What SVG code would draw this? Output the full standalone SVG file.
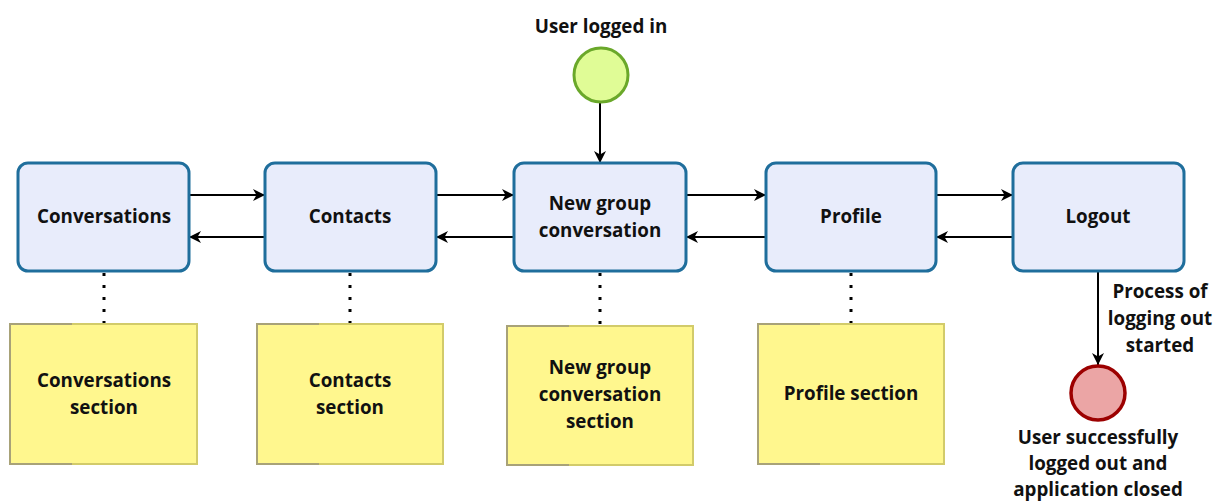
<svg xmlns="http://www.w3.org/2000/svg" width="1216" height="502" viewBox="0 0 1216 502">
  <style>
    text { font-family: "Open Sans", "Noto Sans", "Liberation Sans", sans-serif; font-weight: bold; font-size: 18.8px; fill: #111; text-anchor: middle; }
    .screen { fill: #e8ecfb; stroke: #1f6e9c; stroke-width: 3; }
    .note { fill: #fff78e; stroke: #d2cb6a; stroke-width: 2; }
    .noteShade { fill: none; stroke: #a8a278; stroke-width: 2; }
    .flow { fill: none; stroke: #000; stroke-width: 2; }
    .assoc { fill: none; stroke: #000; stroke-width: 3; stroke-dasharray: 3 9; }
  </style>
  <defs>
    <marker id="arrow" viewBox="0 0 12 12" refX="12" refY="6" markerWidth="12" markerHeight="12" markerUnits="userSpaceOnUse" orient="auto">
      <path d="M0,0 L12,6 L0,12 L3.5,6 Z" fill="#000"/>
    </marker>
  </defs>

  <!-- connectors -->
  <g id="connectors">
    <path class="flow" d="M189,195 H265" marker-end="url(#arrow)"/>
    <path class="flow" d="M265,237 H189" marker-end="url(#arrow)"/>
    <path class="flow" d="M436,195 H514" marker-end="url(#arrow)"/>
    <path class="flow" d="M514,237 H436" marker-end="url(#arrow)"/>
    <path class="flow" d="M686,195 H766" marker-end="url(#arrow)"/>
    <path class="flow" d="M766,237 H686" marker-end="url(#arrow)"/>
    <path class="flow" d="M936,195 H1013" marker-end="url(#arrow)"/>
    <path class="flow" d="M1013,237 H936" marker-end="url(#arrow)"/>
    <path class="flow" d="M600,103 V163" marker-end="url(#arrow)"/>
    <path class="flow" d="M1098,271 V365" marker-end="url(#arrow)"/>
    <path class="assoc" d="M104,273 V324"/>
    <path class="assoc" d="M350,273 V324"/>
    <path class="assoc" d="M600,273 V326"/>
    <path class="assoc" d="M851,273 V324"/>
  </g>

  <!-- start event -->
  <g id="start">
    <circle cx="601" cy="75" r="27" fill="#e0fc96" stroke="#6aa82a" stroke-width="3"/>
    <text x="601" y="33">User logged in</text>
  </g>

  <!-- screens -->
  <g id="conversations">
    <rect class="screen" x="18" y="163" width="171" height="108" rx="10"/>
    <text x="104" y="223">Conversations</text>
  </g>
  <g id="contacts">
    <rect class="screen" x="265" y="163" width="171" height="108" rx="10"/>
    <text x="350" y="223">Contacts</text>
  </g>
  <g id="newGroup">
    <rect class="screen" x="514" y="163" width="172" height="108" rx="10"/>
    <text x="600" y="210">New group</text>
    <text x="600" y="237">conversation</text>
  </g>
  <g id="profile">
    <rect class="screen" x="766" y="163" width="170" height="108" rx="10"/>
    <text x="851" y="223">Profile</text>
  </g>
  <g id="logout">
    <rect class="screen" x="1013" y="163" width="171" height="108" rx="10"/>
    <text x="1098" y="223">Logout</text>
  </g>

  <!-- section notes -->
  <g id="conversationsSection">
    <rect class="note" x="10" y="324" width="187" height="140"/>
    <path class="noteShade" d="M72,324 H10 V464 H72"/>
    <text x="104" y="387">Conversations</text>
    <text x="104" y="414">section</text>
  </g>
  <g id="contactsSection">
    <rect class="note" x="257" y="324" width="186" height="140"/>
    <path class="noteShade" d="M319,324 H257 V464 H319"/>
    <text x="350" y="387">Contacts</text>
    <text x="350" y="414">section</text>
  </g>
  <g id="newGroupSection">
    <rect class="note" x="507" y="326" width="186" height="139"/>
    <path class="noteShade" d="M569,326 H507 V465 H569"/>
    <text x="600" y="374">New group</text>
    <text x="600" y="401">conversation</text>
    <text x="600" y="428">section</text>
  </g>
  <g id="profileSection">
    <rect class="note" x="758" y="324" width="186" height="140"/>
    <path class="noteShade" d="M820,324 H758 V464 H820"/>
    <text x="851" y="400">Profile section</text>
  </g>

  <!-- end event -->
  <g id="end">
    <circle cx="1098" cy="393" r="27" fill="#eba5a5" stroke="#9c0000" stroke-width="3.5"/>
    <text x="1098" y="444">User successfully</text>
    <text x="1098" y="470">logged out and</text>
    <text x="1098" y="496">application closed</text>
  </g>

  <!-- label on the logout flow -->
  <g id="logoutLabel">
    <text x="1160" y="298">Process of</text>
    <text x="1160" y="325">logging out</text>
    <text x="1160" y="352">started</text>
  </g>
</svg>
